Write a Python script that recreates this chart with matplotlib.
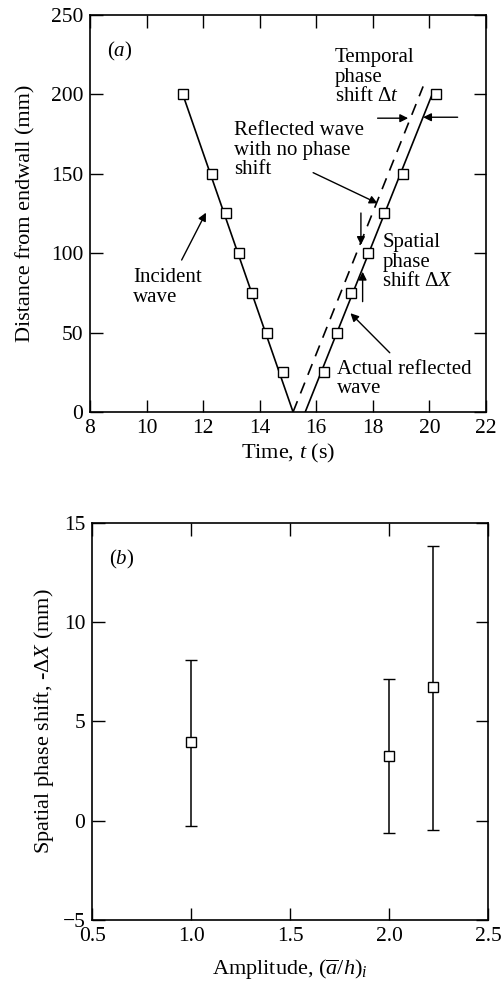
import matplotlib

matplotlib.use("Agg")
import matplotlib.pyplot as plt

plt.rcParams["font.family"] = ["Liberation Serif", "DejaVu Serif"]
plt.rcParams["mathtext.fontset"] = "custom"
plt.rcParams["mathtext.rm"] = "Liberation Serif"
plt.rcParams["mathtext.it"] = "Liberation Serif:italic"
plt.rcParams["font.size"] = 15

# panel (a): distance from endwall vs time
incident_t = [11.28, 12.33, 12.81, 13.27, 13.73, 14.25, 14.83]
incident_d = [200, 150, 125, 100, 75, 50, 25]
reflected_t = [16.26, 16.73, 17.22, 17.84, 18.39, 19.07, 20.25]
reflected_d = [25, 50, 75, 100, 125, 150, 200]

# straight-line fits drawn through the points
incident_fit_t = [11.28, 15.18]
incident_fit_d = [200, 0]
reflected_fit_t = [15.61, 20.10]
reflected_fit_d = [0, 200]
nophase_fit_t = [15.18, 19.78]
nophase_fit_d = [0, 205]

# panel (b): spatial phase shift vs amplitude
amplitude = [1.0, 2.0, 2.22]
shift = [3.94, 3.26, 6.74]
shift_hi = [8.08, 7.13, 13.83]
shift_lo = [-0.26, -0.63, -0.46]

fig = plt.figure(figsize=(5.03, 9.84), dpi=100)
ax1 = fig.add_axes([0.179, 0.5813, 0.787, 0.4035])
ax2 = fig.add_axes([0.1835, 0.065, 0.787, 0.404])

for ax in (ax1, ax2):
    ax.tick_params(direction="in", length=9, width=1, top=True, right=True,
                   labelsize=15.5, pad=5)
    for s in ax.spines.values():
        s.set_linewidth(1.2)

ax1.plot(incident_fit_t, incident_fit_d, color="k", lw=1.2)
ax1.plot(reflected_fit_t, reflected_fit_d, color="k", lw=1.2)
ax1.plot(nophase_fit_t, nophase_fit_d, color="k", lw=1.2, ls=(0, (7, 5)))
ax1.plot(incident_t, incident_d, ls="none", marker="s", ms=7, mfc="white",
         mec="k", mew=1)
ax1.plot(reflected_t, reflected_d, ls="none", marker="s", ms=7, mfc="white",
         mec="k", mew=1)
ax1.set_xlim(8, 22)
ax1.set_ylim(0, 250)
ax1.set_xticks(range(8, 23, 2))
ax1.set_yticks(range(0, 251, 50))
ax1.set_xlabel("Time, $t$ (s)", fontsize=16, labelpad=3)
ax1.set_ylabel("Distance from endwall (mm)", fontsize=16, labelpad=11)
ax1.text(8.59, 234, "($a$)", fontsize=15, va="top")

arrow = dict(arrowstyle="-|>", color="k", lw=1, mutation_scale=12,
             shrinkA=0, shrinkB=0)
ls = 1.02
ax1.text(16.66, 229, "Temporal\nphase\nshift $\\Delta t$", fontsize=15,
         va="top", linespacing=ls)
ax1.annotate("", xy=(19.25, 185), xytext=(18.17, 185), arrowprops=arrow)
ax1.annotate("", xy=(19.78, 185.6), xytext=(21.0, 185.6), arrowprops=arrow)
ax1.text(13.09, 183, "Reflected wave\nwith no phase\nshift", fontsize=15,
         va="top", linespacing=ls)
ax1.annotate("", xy=(18.17, 131.4), xytext=(15.89, 150.7), arrowprops=arrow)
ax1.text(18.34, 112.5, "Spatial\nphase\nshift $\\Delta X$", fontsize=15,
         va="top", linespacing=ls)
ax1.annotate("", xy=(17.58, 105.2), xytext=(17.58, 125.3), arrowprops=arrow)
ax1.annotate("", xy=(17.64, 88.3), xytext=(17.64, 69.5), arrowprops=arrow)
ax1.text(9.52, 90.4, "Incident\nwave", fontsize=15, va="top",
         linespacing=ls)
ax1.annotate("", xy=(12.10, 125.5), xytext=(11.24, 95.7), arrowprops=arrow)
ax1.text(16.75, 32.7, "Actual reflected\nwave", fontsize=15, va="top",
         linespacing=ls)
ax1.annotate("", xy=(17.21, 62.2), xytext=(18.60, 37.3), arrowprops=arrow)

yerr = [[s - lo for s, lo in zip(shift, shift_lo)],
        [hi - s for s, hi in zip(shift, shift_hi)]]
ax2.errorbar(amplitude, shift, yerr=yerr, fmt="s", ms=7, mfc="white",
             mec="k", mew=1, ecolor="k", elinewidth=1.1, capsize=4,
             capthick=1.1)
ax2.set_xlim(0.5, 2.5)
ax2.set_ylim(-5, 15)
ax2.set_xticks([0.5, 1.0, 1.5, 2.0, 2.5])
ax2.set_xticklabels(["0.5", "1.0", "1.5", "2.0", "2.5"])
ax2.set_yticks([-5, 0, 5, 10, 15])
ax2.set_yticklabels(["\u22125", "0", "5", "10", "15"])
ax2.set_xlabel("Amplitude, $(\\overline{a}/h)_i$", fontsize=16, labelpad=8)
ax2.set_ylabel("Spatial phase shift, -$\\Delta X$ (mm)", fontsize=16,
               labelpad=5)
ax2.text(0.586, 13.7, "($b$)", fontsize=15, va="top")

fig.savefig("out.png", dpi=100)
plt.close(fig)
